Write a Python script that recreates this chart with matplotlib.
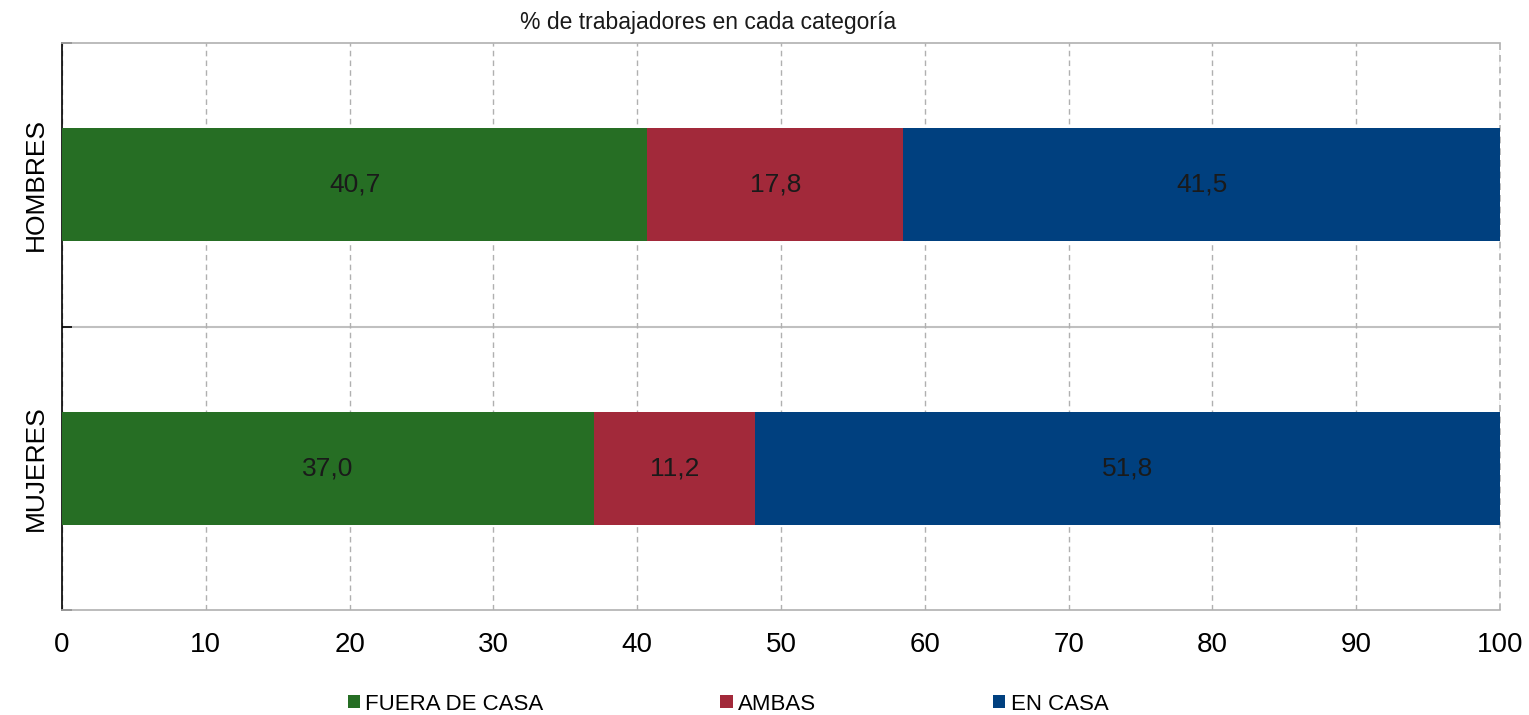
import numpy as np
import matplotlib
matplotlib.use('Agg')
from matplotlib import pyplot as plt
from matplotlib.patches import Patch

### Data
categorias = ['MUJERES', 'HOMBRES']
series = ['FUERA DE CASA', 'AMBAS', 'EN CASA']
fuera_de_casa = [37.0, 40.7]
ambas = [11.2, 17.8]
en_casa = [51.8, 41.5]
colores = ['#266E24', '#A2293A', '#00407F']
xticks = [0, 10, 20, 30, 40, 50, 60, 70, 80, 90, 100]

plt.rcParams['font.family'] = ['Liberation Sans', 'DejaVu Sans']

fig = plt.figure(figsize=(15.29, 7.15), dpi=100)
ax = fig.add_axes([62/1529, 1 - 610/715, (1500 - 62)/1529, (610 - 43)/715])

### Stacked bars
y = np.arange(len(categorias))
left = np.zeros(len(categorias))
for nombre, vals, col in zip(series, (fuera_de_casa, ambas, en_casa), colores):
    vals = np.array(vals)
    ax.barh(y, vals, left=left, height=0.4, color=col, label=nombre, zorder=3)
    for yi, l, v in zip(y, left, vals):
        ax.text(l + v/2, yi, ('%.1f' % v).replace('.', ','), ha='center', va='center',
                fontsize=19, color='#1a1a1a', zorder=4)
    left = left + vals

### Axes formatting
ax.set_xlim(0, 100)
ax.set_ylim(-0.5, 1.5)
ax.set_xticks(xticks)
ax.set_xticklabels([str(t) for t in xticks], fontsize=20)
ax.tick_params(axis='x', length=0, pad=16)
ax.set_yticks(y)
ax.set_yticklabels(categorias, rotation=90, va='center', fontsize=19)
ax.tick_params(axis='y', which='major', length=0, pad=10)
ax.set_yticks([-0.5, 0.5, 1.5], minor=True)
ax.tick_params(axis='y', which='minor', direction='in', length=7, width=1.2, color='black')

ax.grid(axis='x', linestyle=(0, (4, 3)), color='#b0b0b0', linewidth=1, zorder=0)
ax.axvline(100, linestyle=(0, (4, 3)), color='#b0b0b0', linewidth=1.2, zorder=0, clip_on=False)
ax.axhline(0.5, color='#c0c0c0', linewidth=1.5, zorder=1)

ax.spines['right'].set_visible(False)
ax.spines['top'].set_color('#b0b0b0')
ax.spines['bottom'].set_color('#b0b0b0')
ax.spines['top'].set_linewidth(1.2)
ax.spines['bottom'].set_linewidth(1.2)
ax.spines['left'].set_color('black')
ax.spines['left'].set_linewidth(1.2)

fig.text(708/1529, 1 - 22/715, '% de trabajadores en cada categoría', ha='center', va='center',
         fontsize=16.5, color='#1a1a1a')

### Legend
handles = [Patch(facecolor=c, edgecolor='none') for c in colores]
fig.legend(handles, series, loc='center', bbox_to_anchor=(728/1529, 1 - 704/715), ncol=3,
           frameon=False, prop={'size': 16}, handlelength=0.55, handleheight=0.55,
           handletextpad=0.25, columnspacing=7.95, borderaxespad=0)

fig.savefig('out.png', dpi=100)
